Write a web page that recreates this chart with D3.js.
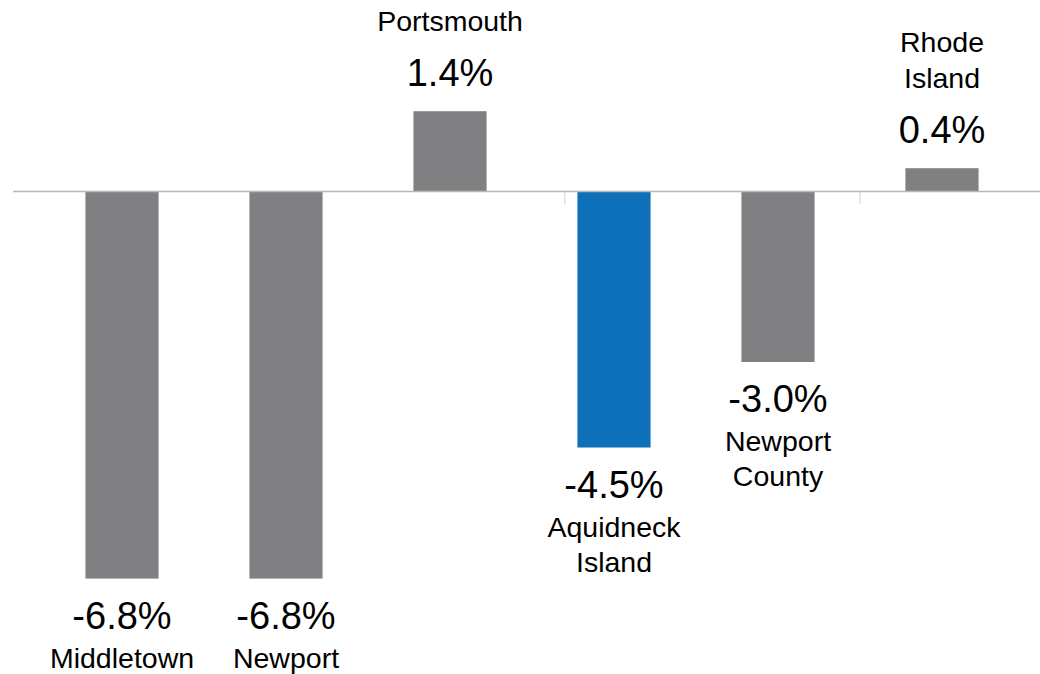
<!DOCTYPE html>
<html>
<head>
<meta charset="utf-8">
<script src="https://cdn.jsdelivr.net/npm/d3@7"></script>
<style>
	body { margin: 0; background: #fff; }
	svg { display: block; }
</style>
</head>
<body>
<div id="chart"></div>
<script>

const categories = ['Middletown', 'Newport', 'Portsmouth', 'Aquidneck Island', 'Newport County', 'Rhode Island'];
const values = [-6.8, -6.8, 1.4, -4.5, -3.0, 0.4];
const nameLines = [['Middletown'], ['Newport'], ['Portsmouth'], ['Aquidneck', 'Island'], ['Newport', 'County'], ['Rhode', 'Island']];
const highlighted = ['Aquidneck Island'];
// small marks on the zero line, in category-index units
const tickSpots = [3.2, 5.0];

const width = 1040;
const height = 674;
const zeroY = 191;
const pxPerUnit = 57;

const svg = d3.select('#chart')
	.append('svg')
	.attr('width', width)
	.attr('height', height)
	.style('font-family', 'Arial, "Liberation Sans", sans-serif');

const x = d3.scaleBand()
	.domain(categories)
	.range([40, 1024])
	.paddingInner(0.554)
	.paddingOuter(0.277);

const xIdx = d3.scaleLinear().domain([0, categories.length]).range(x.range());

const y = d3.scaleLinear()
	.domain([-7, 1.5])
	.range([zeroY + 7 * pxPerUnit, zeroY - 1.5 * pxPerUnit]);

const data = categories.map((c, i) => ({ name: c, value: values[i], lines: nameLines[i] }));

//--------------------------------------------------------------
// bars
//--------------------------------------------------------------
svg.append('g')
	.selectAll('rect')
	.data(data)
	.enter().append('rect')
	.attr('x', (d) => x(d.name))
	.attr('width', x.bandwidth())
	.attr('y', (d) => y(Math.max(0, d.value)))
	.attr('height', (d) => Math.abs(y(d.value) - y(0)))
	.attr('fill', (d) => highlighted.includes(d.name) ? '#0e70b8' : '#808083');

//--------------------------------------------------------------
// zero line + ticks
//--------------------------------------------------------------
svg.append('line')
	.attr('x1', 13)
	.attr('x2', width)
	.attr('y1', y(0) + 0.5)
	.attr('y2', y(0) + 0.5)
	.attr('stroke', '#b8b8b8')
	.attr('stroke-width', 1.5);

svg.append('g')
	.selectAll('line')
	.data(tickSpots)
	.enter().append('line')
	.attr('x1', (d) => xIdx(d))
	.attr('x2', (d) => xIdx(d))
	.attr('y1', y(0) + 1)
	.attr('y2', y(0) + 13)
	.attr('stroke', '#d0d0d0')
	.attr('stroke-width', 1);

//--------------------------------------------------------------
// labels
//--------------------------------------------------------------
const labels = svg.append('g')
	.selectAll('g')
	.data(data)
	.enter().append('g')
	.attr('transform', (d) => `translate(${x(d.name) + x.bandwidth() / 2},0)`)
	.style('text-anchor', 'middle')
	.style('fill', '#000');

labels.append('text')
	.attr('y', (d) => d.value >= 0 ? y(d.value) - 25 : y(d.value) + 50)
	.style('font-size', '38px')
	.text((d) => d.value.toFixed(1) + '%');

labels.each(function(d) {
	const g = d3.select(this);
	const n = d.lines.length;
	d.lines.forEach((line, i) => {
		let ty;
		if (d.value >= 0) ty = y(d.value) - 25 - 55 - (n - 1 - i) * 36;
		else ty = y(d.value) + 50 + 39 + i * 35;
		g.append('text')
			.attr('y', ty)
			.style('font-size', '28.5px')
			.text(line);
	});
});

</script>
</body>
</html>
